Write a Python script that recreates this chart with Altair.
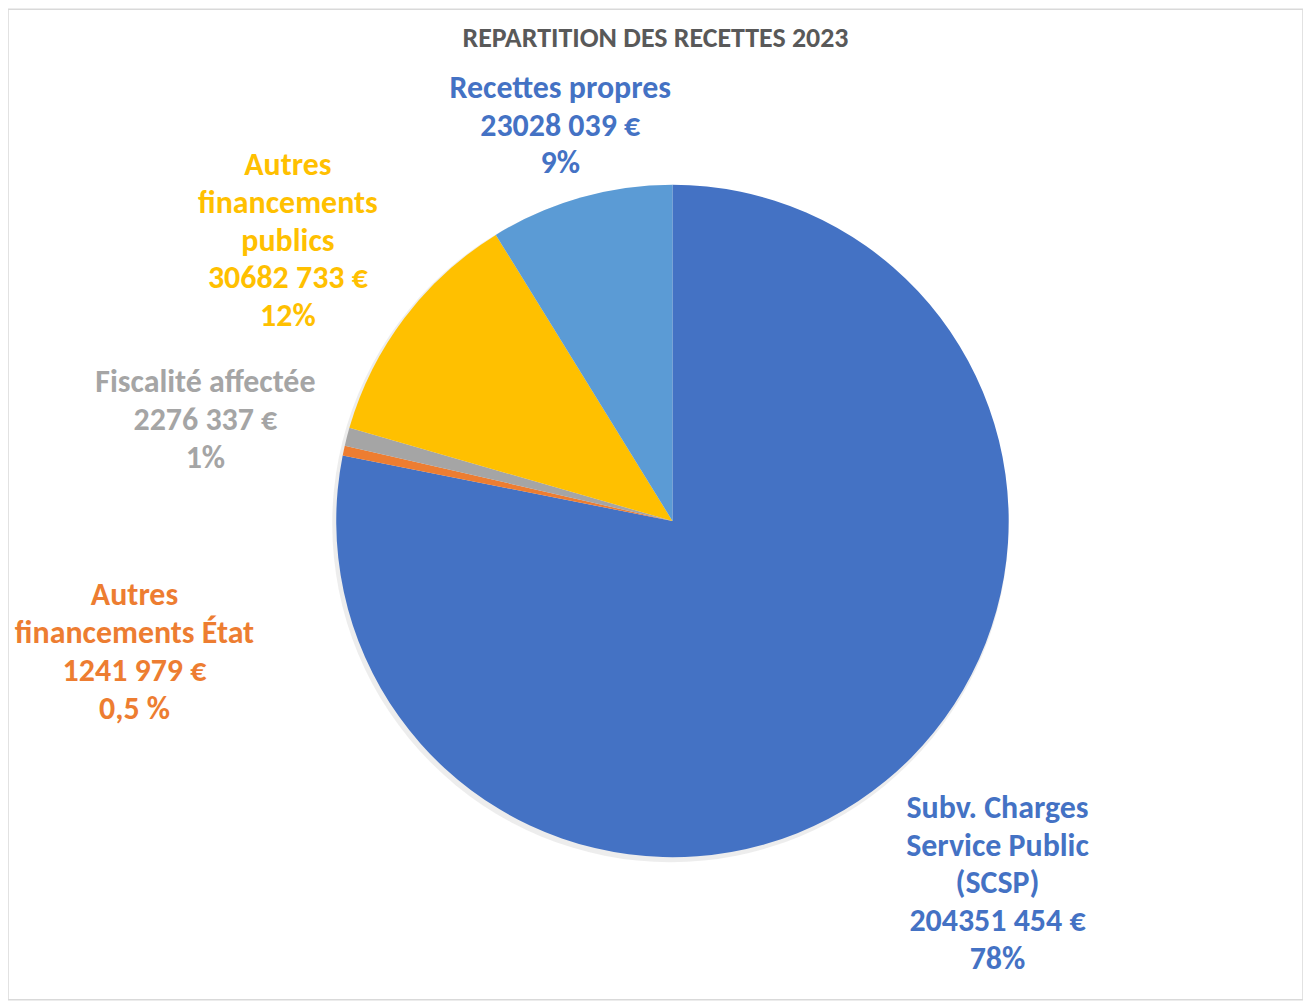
import math
import altair as alt
import pandas as pd

# ---- data ----
categories = [
    "Subv. Charges Service Public (SCSP)",
    "Autres financements État",
    "Fiscalité affectée",
    "Autres financements publics",
    "Recettes propres",
]
amounts = [204351454, 1241979, 2276337, 30682733, 23028039]
label_texts = [
    "Subv. Charges\nService Public\n(SCSP)\n204351 454 €\n78%",
    "Autres\nfinancements État\n1241 979 €\n0,5 %",
    "Fiscalité affectée\n2276 337 €\n1%",
    "Autres\nfinancements\npublics\n30682 733 €\n12%",
    "Recettes propres\n23028 039 €\n9%",
]
slice_colors = ["#4472C4", "#ED7D31", "#A5A5A5", "#FFC000", "#5B9BD5"]
text_colors = ["#4472C4", "#ED7D31", "#A5A5A5", "#FFC000", "#4472C4"]
title_text = "REPARTITION DES RECETTES 2023"

# ---- label placement (block centre: pixels from pie centre / angular shift in degrees) ----
label_radius = [488, 555, 479, 477, 412]
label_shift_deg = [-2.5, -25.8, -2.3, -1.1, 0.0]
LINE_H = 38

total = sum(amounts)
rows = []
cum = 0.0
for i, (c, a) in enumerate(zip(categories, amounts)):
    mid = (cum + a / 2) / total * 2 * math.pi
    cum += a
    ang = mid + math.radians(label_shift_deg[i])
    # block centre in cartesian (y down), then move up to first line
    bx = label_radius[i] * math.sin(ang)
    by = -label_radius[i] * math.cos(ang)
    n = label_texts[i].count("\n") + 1
    fy = by - (n - 1) / 2 * LINE_H
    rows.append({
        "cat": c, "amount": a, "idx": i, "label": label_texts[i],
        "tcolor": text_colors[i],
        "ltheta": math.atan2(bx, -fy),
        "lr": math.hypot(bx, fy),
    })
df = pd.DataFrame(rows)

W, H = 1298, 993
CX, CY = 666, 513
R = 337
FONT = "Carlito, Lato, Open Sans, sans-serif"

base = alt.Chart(df)

shadow = alt.Chart(pd.DataFrame({"v": [1]})).mark_arc(
    radius=R + 2, color="#9a9a9a", opacity=0.18
).encode(theta=alt.value(0), theta2=alt.value(2 * math.pi),
         x=alt.value(CX - 2), y=alt.value(CY + 3))

pie = base.mark_arc(radius=R).encode(
    theta=alt.Theta("amount:Q", stack=True),
    order=alt.Order("idx:Q"),
    color=alt.Color("cat:N", scale=alt.Scale(domain=categories, range=slice_colors), legend=None),
    x=alt.value(CX), y=alt.value(CY),
)

labels = base.mark_text(
    font=FONT, fontSize=32, fontWeight="bold", lineBreak="\n", lineHeight=LINE_H,
    align="center", baseline="middle",
).encode(
    theta=alt.Theta("ltheta:Q", scale=None, stack=None),
    radius=alt.Radius("lr:Q", scale=None),
    text="label:N",
    color=alt.Color("tcolor:N", scale=None),
    x=alt.value(CX), y=alt.value(CY),
)

title = alt.Chart(pd.DataFrame({"t": [title_text]})).mark_text(
    font=FONT, fontSize=28, fontWeight="bold", color="#595959",
    align="center", baseline="middle",
).encode(text="t:N", x=alt.value(649), y=alt.value(30))

chart = alt.layer(shadow, pie, labels, title).properties(
    width=W, height=H, padding=0
).configure_view(stroke="#d9d9d9", strokeWidth=1.5)

chart.save("out.html", embed_options={"renderer": "svg", "actions": False})
